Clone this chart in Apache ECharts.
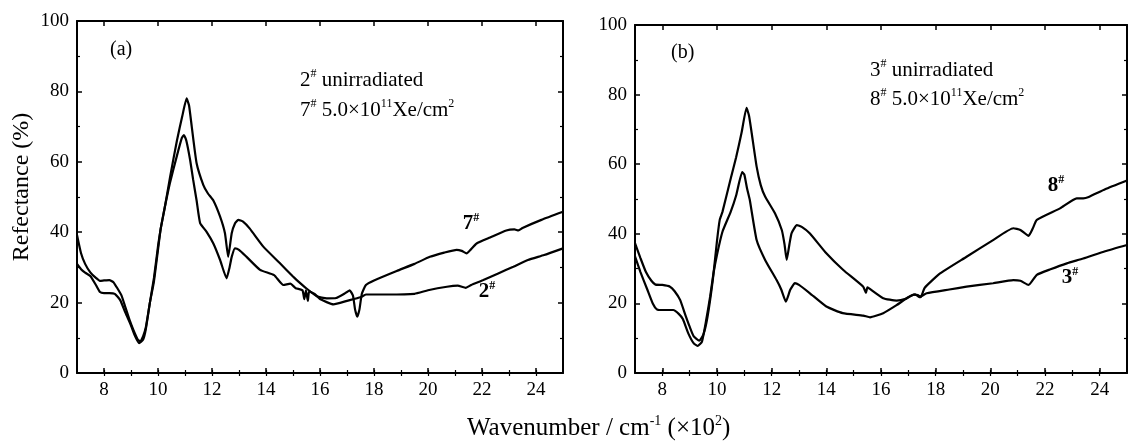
<!DOCTYPE html>
<html><head><meta charset="utf-8">
<script src="https://cdn.jsdelivr.net/npm/echarts@6/dist/echarts.min.js"></script>
<style>html,body{margin:0;padding:0;background:#fff}#c{width:1130px;height:447px}</style>
</head><body><div id="c"></div>
<script>
// Tick values
const xMajorTicks = [8, 10, 12, 14, 16, 18, 20, 22, 24];
const xMinorTicks = [8, 9, 10, 11, 12, 13, 14, 15, 16, 17, 18, 19, 20, 21, 22, 23, 24];

// Panel (a): sample 7# (5.0e11 Xe/cm2)
const wnA7 = [7.0,7.15,7.3,7.5,7.7,7.85,8.0,8.2,8.35,8.5,8.65,8.8,8.95,9.1,9.25,9.35,9.45,9.55,9.7,9.85,10.0,10.1,10.25,10.45,10.7,10.9,11.06,11.15,11.25,11.43,11.68,11.85,12.05,12.3,12.48,12.6,12.73,12.85,12.97,13.15,13.4,13.9,14.5,15.0,15.14,15.5,15.88,16.25,16.6,16.9,17.1,17.22,17.3,17.38,17.46,17.55,17.7,18.0,18.84,19.5,20.07,20.6,21.06,21.25,21.43,21.6,21.8,22.3,22.9,23.2,23.35,23.5,24.2,25.0];
const refA7 = [39.2,34,31,28.5,27,26.2,26.3,26.4,25.8,24,22,18.5,15,12,9.5,9,10.5,13,20,26,35,41,47,55.8,66,73,78,76,70,59.6,53.4,51,49,44.4,39.7,33,39.7,42.5,43.5,43,41,35.9,31.3,27.4,26.4,24,21.8,21.2,21.3,22.5,23.5,22,18,16,18,22.5,25,26.3,29,31,33,34.2,35,34.7,34,35.2,36.8,38.5,40.5,40.8,40.5,41.2,43.5,45.8];

// Panel (a): sample 2# (unirradiated)
const wnA2 = [7.0,7.15,7.3,7.5,7.7,7.85,8.0,8.2,8.4,8.6,8.8,9.0,9.15,9.3,9.45,9.55,9.7,9.85,10.0,10.1,10.25,10.44,10.69,10.88,10.96,11.05,11.19,11.3,11.43,11.56,11.8,12.05,12.3,12.54,12.65,12.73,12.85,13.0,13.28,13.78,14.3,14.64,14.9,15.1,15.35,15.42,15.48,15.55,15.6,15.8,16.0,16.5,17.0,17.5,17.7,18.5,19.5,20.0,20.7,21.1,21.4,21.6,22.05,22.6,23.16,23.7,24.3,25.0];
const refA2 = [31,29.5,28.5,27.5,25,23,22.7,22.7,22.5,20.7,17,13.5,10.5,8.5,9.5,12.5,20,27,36,41,47,53.9,61.4,66.7,67.6,66,60.5,55,49,42.6,40.1,36.8,32.1,26.9,30,33,35.4,35,33,29.3,27.8,25,25.4,24.1,23.5,21,23.5,20.5,23.2,22.5,21,19.5,20.5,21.5,22.3,22.3,22.5,23.5,24.5,24.8,24.2,25,26.4,28.3,30.2,32.1,33.5,35.4];

// Panel (b): sample 8# (5.0e11 Xe/cm2)
const wnB8 = [7.0,7.2,7.4,7.6,7.75,8.0,8.28,8.45,8.65,8.85,9.0,9.15,9.35,9.5,9.65,9.85,10.0,10.1,10.2,10.5,10.7,10.9,11.08,11.17,11.27,11.45,11.6,11.76,12.12,12.37,12.47,12.55,12.65,12.73,12.92,13.1,13.4,14.0,14.62,15.35,15.45,15.5,15.55,16.08,16.57,16.9,17.2,17.35,17.45,17.6,18.16,19.13,20.1,20.84,21.1,21.4,21.55,21.7,22.55,23.16,23.4,23.6,24.2,25.0];
const refB8 = [37.3,33,29,26.5,25.4,25.3,24.8,23.5,21,16.5,13.3,10.5,9.3,11,16,27,38,44,46.3,55.8,62,69.1,76.2,74,68.9,59.3,54,50.7,45.9,41.1,37,32.5,37,40.2,42.5,42,40.1,34.4,29.6,24.8,23,24.6,24.4,21.5,20.8,21.3,22.5,22.4,21.8,24.5,28.6,33.4,38.2,41.6,41.1,39.4,41.5,44,47.3,50.2,50.2,50.6,52.8,55.3];

// Panel (b): sample 3# (unirradiated)
const wnB3 = [7.0,7.2,7.45,7.65,7.8,8.0,8.4,8.6,8.75,8.95,9.15,9.3,9.45,9.6,9.75,9.87,10.0,10.2,10.5,10.7,10.92,11.0,11.1,11.2,11.45,11.76,12.18,12.35,12.52,12.68,12.85,13.0,13.4,14.0,14.6,15.35,15.6,16.08,16.57,17.0,17.25,17.4,17.67,18.5,19.13,20.1,20.84,21.1,21.4,21.7,22.2,22.8,23.4,24.2,25.0];
const refB3 = [33.5,29,24,20,18.3,18.1,18.1,17,15.5,11.4,8.5,7.8,9,15,22,28.6,34,40.6,46.3,51,57.7,57,53,49.7,38.2,32.5,26.7,24,20.5,23.9,25.8,25.3,22.9,19.1,17.2,16.5,16.0,17.2,19.5,21.8,22.6,21.8,22.9,24,24.8,25.8,26.7,26.5,25.3,28.2,29.8,31.5,32.9,35,36.8];

const SERIF = '"Liberation Serif", "Times New Roman", serif';
const pairs = (xs, ys) => xs.map((x, i) => [x, ys[i]]);

function xAxesFor(g) {
  const base = {gridIndex: g, type: 'value', min: 7, max: 25, interval: 1, splitLine: {show: false}};
  return [
    Object.assign({}, base, {position: 'bottom',
      axisLine: {onZero: false, lineStyle: {color: '#000', width: 2}},
      axisTick: {inside: true, length: 5, customValues: xMajorTicks, lineStyle: {color: '#000', width: 1.5}},
      axisLabel: {customValues: xMajorTicks, color: '#000', fontFamily: SERIF, fontSize: 19, margin: 8}}),
    Object.assign({}, base, {position: 'bottom',
      axisLine: {show: false},
      axisTick: {inside: true, length: 3, customValues: xMinorTicks, lineStyle: {color: '#000', width: 1.2}},
      axisLabel: {show: false}}),
    Object.assign({}, base, {position: 'top',
      axisLine: {onZero: false, lineStyle: {color: '#000', width: 2}},
      axisTick: {inside: true, length: 5, customValues: xMajorTicks, lineStyle: {color: '#000', width: 1.5}},
      axisLabel: {show: false}}),
    Object.assign({}, base, {position: 'top',
      axisLine: {show: false},
      axisTick: {inside: true, length: 3, customValues: xMinorTicks, lineStyle: {color: '#000', width: 1.2}},
      axisLabel: {show: false}})
  ];
}
function yAxesFor(g) {
  const base = {gridIndex: g, type: 'value', min: 0, max: 100, interval: 20, splitLine: {show: false},
    axisLine: {onZero: false, lineStyle: {color: '#000', width: 2}},
    axisTick: {inside: true, length: 5, lineStyle: {color: '#000', width: 1.5}},
    minorTick: {show: true, splitNumber: 2, length: 3, lineStyle: {color: '#000', width: 1.2}},
    minorSplitLine: {show: false}};
  return [
    Object.assign({}, base, {position: 'left',
      axisLabel: {color: '#000', fontFamily: SERIF, fontSize: 19, margin: 8}}),
    Object.assign({}, base, {position: 'right', axisLabel: {show: false}})
  ];
}

const lineStyle = {color: '#000', width: 2.2};
function ser(xi, yi, data, name) {
  return {type: 'line', name: name, xAxisIndex: xi, yAxisIndex: yi, data: data,
    showSymbol: false, symbol: 'none', smooth: 0.15, lineStyle: lineStyle, animation: false, z: 3};
}

const rich = (fs, bold) => ({
  n: {fontFamily: SERIF, fontSize: fs, fill: '#000', fontWeight: bold ? 'bold' : 'normal', lineHeight: fs + 3},
  s: {fontFamily: SERIF, fontSize: Math.round(fs * 0.58), fill: '#000', fontWeight: bold ? 'bold' : 'normal', verticalAlign: 'top', lineHeight: Math.round(fs * 0.58)}
});
function txt(x, y, text, fs, align, bold, rot) {
  return {type: 'text', x: x, y: y, rotation: rot || 0, z: 10,
    style: {text: text, rich: rich(fs, bold), align: align || 'left', verticalAlign: 'middle',
      font: (bold ? 'bold ' : '') + fs + 'px ' + SERIF, fill: '#000'}};
}

const chart = echarts.init(document.getElementById('c'), null, {renderer: 'canvas'});
chart.setOption({
  backgroundColor: '#fff',
  animation: false,
  grid: [
    {left: 77, top: 21, width: 486, height: 352},
    {left: 635, top: 25, width: 492, height: 348}
  ],
  xAxis: xAxesFor(0).concat(xAxesFor(1)),
  yAxis: yAxesFor(0).concat(yAxesFor(1)),
  series: [
    ser(0, 0, pairs(wnA7, refA7), '7#'),
    ser(0, 0, pairs(wnA2, refA2), '2#'),
    ser(4, 2, pairs(wnB8, refB8), '8#'),
    ser(4, 2, pairs(wnB3, refB3), '3#')
  ],
  graphic: [
    txt(110, 50, '{n|(a)}', 20),
    txt(300, 80, '{n|2}{s|#}{n| unirradiated}', 21),
    txt(300, 110, '{n|7}{s|#}{n| 5.0×10}{s|11}{n|Xe/cm}{s|2}', 21),
    txt(471, 224, '{n|7}{s|#}', 21, 'center', true),
    txt(487, 292, '{n|2}{s|#}', 21, 'center', true),
    txt(671, 53, '{n|(b)}', 20),
    txt(870, 70, '{n|3}{s|#}{n| unirradiated}', 21),
    txt(870, 99, '{n|8}{s|#}{n| 5.0×10}{s|11}{n|Xe/cm}{s|2}', 21),
    txt(1056, 186, '{n|8}{s|#}', 21, 'center', true),
    txt(1070, 278, '{n|3}{s|#}', 21, 'center', true),
    txt(22, 187, '{n|Refectance (%)}', 24, 'center', false, Math.PI / 2),
    txt(467, 428, '{n|Wavenumber / cm}{s|-1}{n| (×10}{s|2}{n|)}', 25, 'left')
  ]
});
</script></body></html>
